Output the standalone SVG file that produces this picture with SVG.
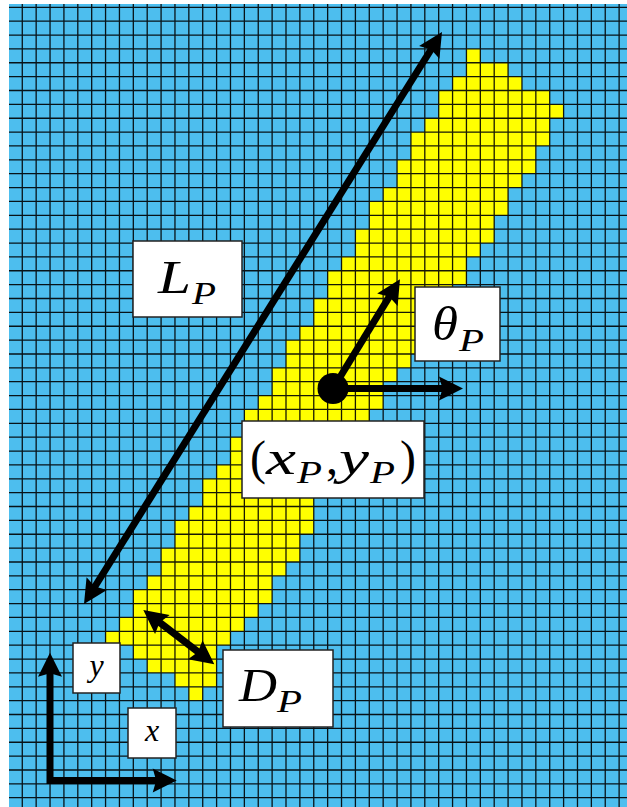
<svg xmlns="http://www.w3.org/2000/svg" width="627" height="807" viewBox="0 0 627 807">
<style>
.lbl{fill:#fff;stroke:#222;stroke-width:1.5}
.t{font-family:"Liberation Serif","DejaVu Serif",serif;font-style:italic;fill:#000}
.n{font-family:"Liberation Serif","DejaVu Serif",serif;font-style:normal;fill:#000}
.arr{stroke:#000;stroke-width:7;fill:none;stroke-linejoin:miter;stroke-linecap:butt}
.grid{stroke:#000;stroke-width:1.3;stroke-opacity:0.9;fill:none}
</style>
<defs>
<marker id="ah" markerUnits="userSpaceOnUse" viewBox="-8 -13 28 26" refX="0" refY="0" markerWidth="28" markerHeight="26" orient="auto-start-reverse" overflow="visible">
<path d="M18,0 L-6,-12 L-2.5,0 L-6,12 Z" fill="#000"/>
</marker>
</defs>
<rect width="627" height="807" fill="#fff"/>
<g id="field">
<rect x="9" y="4" width="618" height="803" fill="#4DBEEE"/>
<g id="particle" transform="translate(8.4 7.3) scale(13.88 13.867)" fill="#FFFF00">
<rect x="33" y="3" width="1" height="1"/>
<rect x="33" y="4" width="3" height="1"/>
<rect x="32" y="5" width="5" height="1"/>
<rect x="31" y="6" width="8" height="1"/>
<rect x="31" y="7" width="9" height="1"/>
<rect x="30" y="8" width="9" height="1"/>
<rect x="29" y="9" width="10" height="1"/>
<rect x="29" y="10" width="9" height="1"/>
<rect x="28" y="11" width="10" height="1"/>
<rect x="28" y="12" width="9" height="1"/>
<rect x="27" y="13" width="9" height="1"/>
<rect x="26" y="14" width="10" height="1"/>
<rect x="26" y="15" width="9" height="1"/>
<rect x="25" y="16" width="10" height="1"/>
<rect x="25" y="17" width="9" height="1"/>
<rect x="24" y="18" width="9" height="1"/>
<rect x="23" y="19" width="10" height="1"/>
<rect x="23" y="20" width="9" height="1"/>
<rect x="22" y="21" width="10" height="1"/>
<rect x="22" y="22" width="9" height="1"/>
<rect x="21" y="23" width="9" height="1"/>
<rect x="20" y="24" width="10" height="1"/>
<rect x="20" y="25" width="9" height="1"/>
<rect x="19" y="26" width="9" height="1"/>
<rect x="19" y="27" width="8" height="1"/>
<rect x="18" y="28" width="9" height="1"/>
<rect x="17" y="29" width="9" height="1"/>
<rect x="17" y="30" width="9" height="1"/>
<rect x="16" y="31" width="9" height="1"/>
<rect x="16" y="32" width="8" height="1"/>
<rect x="15" y="33" width="9" height="1"/>
<rect x="14" y="34" width="9" height="1"/>
<rect x="14" y="35" width="8" height="1"/>
<rect x="13" y="36" width="9" height="1"/>
<rect x="12" y="37" width="10" height="1"/>
<rect x="12" y="38" width="9" height="1"/>
<rect x="11" y="39" width="10" height="1"/>
<rect x="11" y="40" width="9" height="1"/>
<rect x="10" y="41" width="9" height="1"/>
<rect x="9" y="42" width="10" height="1"/>
<rect x="9" y="43" width="9" height="1"/>
<rect x="8" y="44" width="9" height="1"/>
<rect x="7" y="45" width="9" height="1"/>
<rect x="9" y="46" width="6" height="1"/>
<rect x="10" y="47" width="5" height="1"/>
<rect x="12" y="48" width="3" height="1"/>
<rect x="13" y="49" width="1" height="1"/>
</g>
<path class="grid" d="M22.28 4V807M36.16 4V807M50.04 4V807M63.92 4V807M77.8 4V807M91.68 4V807M105.56 4V807M119.44 4V807M133.32 4V807M147.2 4V807M161.08 4V807M174.96 4V807M188.84 4V807M202.72 4V807M216.6 4V807M230.48 4V807M244.36 4V807M258.24 4V807M272.12 4V807M286 4V807M299.88 4V807M313.76 4V807M327.64 4V807M341.52 4V807M355.4 4V807M369.28 4V807M383.16 4V807M397.04 4V807M410.92 4V807M424.8 4V807M438.68 4V807M452.56 4V807M466.44 4V807M480.32 4V807M494.2 4V807M508.08 4V807M521.96 4V807M535.84 4V807M549.72 4V807M563.6 4V807M577.48 4V807M591.36 4V807M605.24 4V807M619.12 4V807
M9 7.3H627M9 21.17H627M9 35.03H627M9 48.9H627M9 62.77H627M9 76.64H627M9 90.5H627M9 104.37H627M9 118.24H627M9 132.1H627M9 145.97H627M9 159.84H627M9 173.7H627M9 187.57H627M9 201.44H627M9 215.31H627M9 229.17H627M9 243.04H627M9 256.91H627M9 270.77H627M9 284.64H627M9 298.51H627M9 312.37H627M9 326.24H627M9 340.11H627M9 353.98H627M9 367.84H627M9 381.71H627M9 395.58H627M9 409.44H627M9 423.31H627M9 437.18H627M9 451.04H627M9 464.91H627M9 478.78H627M9 492.65H627M9 506.51H627M9 520.38H627M9 534.25H627M9 548.11H627M9 561.98H627M9 575.85H627M9 589.71H627M9 603.58H627M9 617.45H627M9 631.32H627M9 645.18H627M9 659.05H627M9 672.92H627M9 686.78H627M9 700.65H627M9 714.52H627M9 728.38H627M9 742.25H627M9 756.12H627M9 769.98H627M9 783.85H627M9 797.72H627"/>
</g>
<g id="connectors">
<path class="arr" d="M93.55,588.74 L432.45,47.26" marker-start="url(#ah)" marker-end="url(#ah)"/>
<path class="arr" d="M333,388.5 L390.56,294.62" marker-end="url(#ah)"/>
<path class="arr" d="M333,388.5 L445,388.5" marker-end="url(#ah)"/>
<path class="arr" d="M157.6,620.9 L200,653.4" marker-start="url(#ah)" marker-end="url(#ah)"/>
<path class="arr" d="M50,670.7 V780.5 H158.7" marker-start="url(#ah)" marker-end="url(#ah)"/>
</g>
<g id="centroid"><circle cx="333" cy="388.5" r="15.5" fill="#000"/></g>
<g id="label-L">
<rect class="lbl" x="133" y="241" width="109" height="76"/>
<text class="t" x="158" y="293" font-size="47" textLength="33" lengthAdjust="spacingAndGlyphs">L</text>
<text class="t" x="192" y="304" font-size="32" textLength="24" lengthAdjust="spacingAndGlyphs">P</text>
</g>
<g id="label-theta">
<rect class="lbl" x="415" y="287" width="85" height="74"/>
<text class="t" x="432" y="340" font-size="48" textLength="26" lengthAdjust="spacingAndGlyphs">θ</text>
<text class="t" x="459" y="351" font-size="32" textLength="25" lengthAdjust="spacingAndGlyphs">P</text>
</g>
<g id="label-pos">
<rect class="lbl" x="242" y="421" width="182" height="77"/>
<text class="n" x="250" y="474" font-size="48">(</text>
<text class="t" x="266" y="474" font-size="48" textLength="30" lengthAdjust="spacingAndGlyphs">x</text>
<text class="t" x="297" y="483" font-size="32" textLength="25" lengthAdjust="spacingAndGlyphs">P</text>
<text class="n" x="326" y="474" font-size="48">,</text>
<text class="t" x="339" y="474" font-size="48" textLength="30" lengthAdjust="spacingAndGlyphs">y</text>
<text class="t" x="370" y="483" font-size="32" textLength="25" lengthAdjust="spacingAndGlyphs">P</text>
<text class="n" x="400" y="474" font-size="48">)</text>
</g>
<g id="label-D">
<rect class="lbl" x="223" y="650" width="110" height="77"/>
<text class="t" x="239" y="701" font-size="47" textLength="38" lengthAdjust="spacingAndGlyphs">D</text>
<text class="t" x="277" y="712" font-size="32" textLength="25" lengthAdjust="spacingAndGlyphs">P</text>
</g>
<g id="label-y">
<rect class="lbl" x="73" y="643" width="47" height="50"/>
<text class="t" x="96.5" y="676" font-size="32" text-anchor="middle">y</text>
</g>
<g id="label-x">
<rect class="lbl" x="128" y="708" width="48" height="50"/>
<text class="t" x="152" y="741" font-size="32" text-anchor="middle">x</text>
</g>
</svg>
